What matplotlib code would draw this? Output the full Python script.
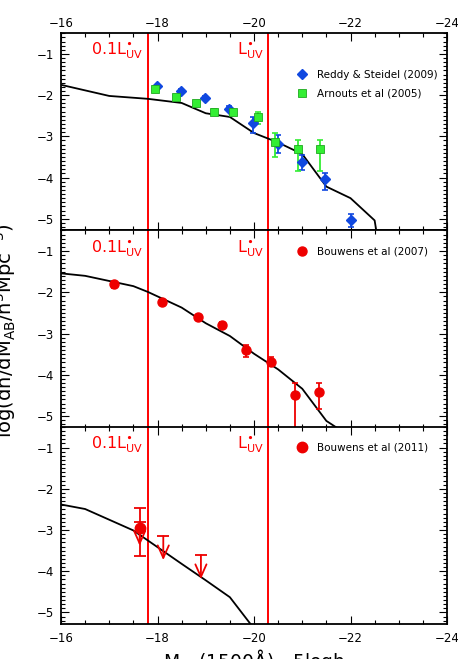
import matplotlib
matplotlib.use('Agg')
import matplotlib.pyplot as plt
from matplotlib.ticker import MultipleLocator
import matplotlib.transforms as mtransforms

plt.rcParams['font.family'] = 'DejaVu Sans'
plt.rcParams['mathtext.fontset'] = 'dejavusans'
plt.rcParams['mathtext.default'] = 'regular'

# model luminosity functions, one per panel
mod1_x = [-16, -17, -17.8, -18.5, -19, -19.5, -20, -20.5, -21, -21.5, -22, -22.5, -22.55]
mod1_y = [-1.75, -2.02, -2.09, -2.19, -2.44, -2.53, -2.92, -3.15, -3.43, -4.22, -4.5, -5.04, -5.4]
mod2_x = [-16, -16.5, -17.5, -17.8, -18.5, -19, -19.5, -20, -20.5, -21, -21.5, -21.8]
mod2_y = [-1.54, -1.6, -1.85, -1.99, -2.37, -2.75, -3.06, -3.49, -3.87, -4.34, -5.12, -5.35]
mod3_x = [-16, -16.5, -17.5, -18.5, -19, -19.5, -20]
mod3_y = [-2.38, -2.49, -3.01, -3.82, -4.22, -4.63, -5.39]

# Reddy & Steidel (2009)
rs_x = [-17.99, -18.48, -18.99, -19.48, -19.98, -20.5, -20.99, -21.48, -22.0]
rs_y = [-1.78, -1.89, -2.06, -2.33, -2.68, -3.18, -3.63, -4.04, -5.04]
rs_eup = [0.03, 0.03, 0.03, 0.06, 0.15, 0.22, 0.18, 0.16, 0.16]
rs_elo = [0.03, 0.03, 0.03, 0.06, 0.23, 0.22, 0.18, 0.26, 0.17]

# Arnouts et al (2005)
ar_x = [-17.95, -18.39, -18.8, -19.17, -19.57, -20.08, -20.44, -20.92, -21.36]
ar_y = [-1.84, -2.04, -2.2, -2.41, -2.42, -2.54, -3.14, -3.31, -3.31]
ar_eup = [0.03, 0.03, 0.05, 0.08, 0.07, 0.12, 0.21, 0.23, 0.23]
ar_elo = [0.03, 0.03, 0.05, 0.08, 0.07, 0.16, 0.36, 0.54, 0.54]

# Bouwens et al (2007)
b07_x = [-17.1, -18.1, -18.84, -19.34, -19.84, -20.35, -20.85, -21.35]
b07_y = [-1.81, -2.23, -2.61, -2.8, -3.41, -3.68, -4.48, -4.42]
b07_eup = [0.08, 0.06, 0.07, 0.07, 0.13, 0.1, 0.29, 0.22]
b07_elo = [0.08, 0.06, 0.07, 0.07, 0.17, 0.1, 1.0, 0.42]

# Bouwens et al (2011): one point plus upper limits
b11_x = [-17.63]
b11_y = [-2.95]
b11_eup = [0.49]
b11_elo = [0.69]
ul_x = [-17.63, -18.12, -18.9]
ul_y = [-2.80, -3.15, -3.61]

lstar_x = [-17.8, -20.3]
lstar_lab = ['0.1L$^{\\bullet}_{UV}$', 'L$^{\\bullet}_{UV}$']

RED = '#ee0000'
BLUE = '#1048e0'
GREEN = '#33ee33'

fig = plt.figure(figsize=(4.58, 6.59), dpi=100)
W, H = 458.0, 659.0
left = 61 / W
width = 386 / W
tops = [33.3, 230.5, 427.0]
ph = 197.0
axes = []
for t in tops:
    ax = fig.add_axes([left, 1 - (t + ph) / H, width, ph / H])
    axes.append(ax)

for i, ax in enumerate(axes):
    ax.set_xlim(-16, -24)
    ax.set_ylim(-5.28, -0.5)
    ax.xaxis.set_major_locator(MultipleLocator(2))
    ax.xaxis.set_minor_locator(MultipleLocator(0.5))
    ax.yaxis.set_major_locator(MultipleLocator(1))
    ax.yaxis.set_minor_locator(MultipleLocator(0.1))
    ax.tick_params(which='both', direction='in', top=True, right=True,
                   labelsize=8.5, width=0.8)
    ax.tick_params(which='major', length=5.5)
    ax.tick_params(which='minor', length=3)
    ax.tick_params(axis='y', pad=5)
    for s in ax.spines.values():
        s.set_linewidth(1.3)
    for xv in lstar_x:
        ax.axvline(xv, color='red', lw=1.4, zorder=1)
    trans = mtransforms.blended_transform_factory(ax.transData, ax.transAxes)
    for xv, lab in zip(lstar_x, lstar_lab):
        ax.text(xv + 0.1, 0.89, lab, transform=trans, ha='right', va='baseline',
                color='red', fontsize=11.5)

ax1, ax2, ax3 = axes
ax1.tick_params(axis='x', labeltop=True, labelbottom=False, pad=2.5)
ax2.tick_params(axis='x', labelbottom=False)
ax3.tick_params(axis='x', pad=6)

eb = dict(fmt='none', elinewidth=1.3, capsize=2.2, capthick=1.2, zorder=3)

# top panel
ax1.plot(mod1_x, mod1_y, color='black', lw=1.3, zorder=2)
ax1.errorbar(rs_x, rs_y, yerr=[rs_elo, rs_eup], ecolor=BLUE, **eb)
h_rs, = ax1.plot(rs_x, rs_y, 'D', color=BLUE, ms=4.8, mec=BLUE, ls='none', zorder=4,
                 label='Reddy & Steidel (2009)')
ax1.errorbar(ar_x, ar_y, yerr=[ar_elo, ar_eup], ecolor=GREEN, **eb)
h_ar, = ax1.plot(ar_x, ar_y, 's', color=GREEN, ms=6, mec='#1fa81f', mew=0.6, ls='none',
                 zorder=5, label='Arnouts et al (2005)')
ax1.legend(handles=[h_rs, h_ar], loc='center left', bbox_to_anchor=(0.611, 0.741),
           frameon=False, fontsize=7.5, handlelength=1.0, handletextpad=0.95,
           borderpad=0, borderaxespad=0, labelspacing=0.85)

# middle panel
ax2.plot(mod2_x, mod2_y, color='black', lw=1.3, zorder=2)
ax2.errorbar(b07_x, b07_y, yerr=[b07_elo, b07_eup], ecolor=RED, **eb)
h_b07, = ax2.plot(b07_x, b07_y, 'o', color=RED, ms=6.5, ls='none', zorder=4,
                  label='Bouwens et al (2007)')
ax2.legend(handles=[h_b07], loc='center left', bbox_to_anchor=(0.611, 0.895),
           frameon=False, fontsize=7.5, handlelength=1.0, handletextpad=0.95,
           borderpad=0, borderaxespad=0)

# bottom panel
ax3.plot(mod3_x, mod3_y, color='black', lw=1.3, zorder=2)
ax3.errorbar(b11_x, b11_y, yerr=[b11_elo, b11_eup], ecolor=RED, fmt='none',
             elinewidth=1.3, capsize=4.5, capthick=1.3, zorder=3)
ax3.plot(ul_x, ul_y, '_', color=RED, ms=9, mew=1.3, ls='none', zorder=3)
for xv, yv in zip(ul_x, ul_y):
    ax3.annotate('', xy=(xv, yv - 0.58), xytext=(xv, yv),
                 arrowprops=dict(arrowstyle='->,head_length=0.9,head_width=0.4',
                                 color=RED, lw=1.3, shrinkA=0, shrinkB=0),
                 zorder=3)
h_b11, = ax3.plot(b11_x, b11_y, 'o', color=RED, ms=7.5, ls='none', zorder=4,
                  label='Bouwens et al (2011)')
ax3.legend(handles=[h_b11], loc='center left', bbox_to_anchor=(0.611, 0.895),
           frameon=False, fontsize=7.5, handlelength=1.0, handletextpad=0.95,
           borderpad=0, borderaxespad=0)

fig.text(5 / W, 1 - 331 / H, 'log(dn/dM$_{AB}$/h$^{3}$Mpc$^{-3}$)', rotation=90,
         ha='center', va='center', fontsize=14)
fig.text(254 / W, 1 - 647 / H, 'M$_{UV}$(1500Å) - 5logh', ha='center', va='top',
         fontsize=13.5)

fig.savefig('out.png', dpi=100)
